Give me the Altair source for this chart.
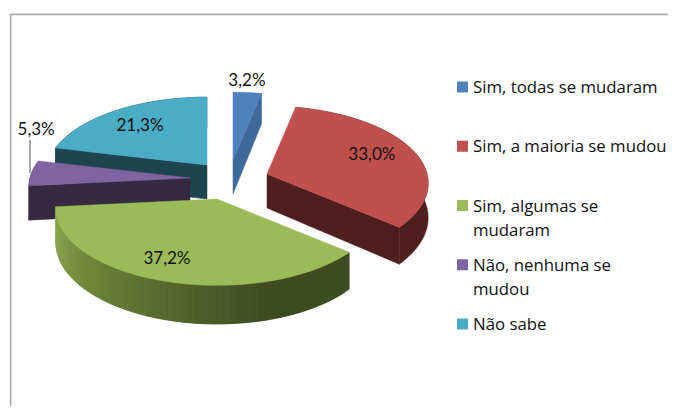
import math
import numpy as np
import pandas as pd
import altair as alt

# ---- data
categories = ["Sim, todas se mudaram", "Sim, a maioria se mudou", "Sim, algumas se mudaram",
              "Não, nenhuma se mudou", "Não sabe"]
legend_text = ["Sim, todas se mudaram", "Sim, a maioria se mudou", "Sim, algumas se\nmudaram",
               "Não, nenhuma se\nmudou", "Não sabe"]
shares = [3.2, 33.0, 37.2, 5.3, 21.3]
value_labels = ["3,2%", "33,0%", "37,2%", "5,3%", "21,3%"]
top_colors = ["#4f81bd", "#c0504d", "#9bbb59", "#8064a2", "#4bacc6"]
wall_colors = ["#3e6a9a", "#4f1f1f", "#3f4c22", "#352a41", "#1d444f"]

# ---- layout of the tilted pie (screen pixels)
ORIGIN = 8
RX, RY, PERSP, DEPTH = 160.0, 76.0, 0.12, 34.0
slice_tips = [(233, 160), (267, 174), (217, 199), (190, 178), (207, 165)]
label_angle = [4.8, 69.0, 201.6, 303.3, 320.8]
label_radius = [1.192, 0.724, 0.776, 1.245, 0.706]
green_stops_deg = [130, 165, 195, 225, 250, 265]
green_stops_col = ["#3f4c22", "#3f4c22", "#55682e", "#6d8439", "#84a04b", "#8fab55"]


def project(tip, deg, f=1.0, drop=False):
    a = math.radians(deg)
    u, v = f * math.sin(a), -f * math.cos(a)
    d = 1 - PERSP * v
    x = tip[0] + RX * u / d - ORIGIN
    y = tip[1] + RY * v / d - ORIGIN
    if drop:
        y += DEPTH / d
    return [round(x, 2), round(y, 2)]


def hex_mix(deg):
    rgb = [[int(c[i:i + 2], 16) for i in (1, 3, 5)] for c in green_stops_col]
    parts = [np.interp(deg, green_stops_deg, [p[k] for p in rgb]) for k in range(3)]
    return "#%02x%02x%02x" % tuple(int(round(p)) for p in parts)


def feature(ring, fill):
    return {"type": "Feature", "properties": {"fill": fill},
            "geometry": {"type": "Polygon", "coordinates": [ring + [ring[0]]]}}


starts = np.cumsum([0] + shares[:-1]) * 3.6
ends = np.cumsum(shares) * 3.6
shapes = {}
for i, tip in enumerate(slice_tips):
    a0, a1 = float(starts[i]), float(ends[i])
    angles = np.linspace(a0, a1, 60)
    tip_px = [tip[0] - ORIGIN, tip[1] - ORIGIN]
    tip_low = [tip_px[0], tip_px[1] + DEPTH]
    top = feature([tip_px] + [project(tip, t) for t in angles], top_colors[i])
    walls = []
    if i == 2:  # curved wall with its shading; each strip runs under the next one
        for j in range(len(angles) - 1):
            t0, t1 = angles[j], angles[min(j + 2, len(angles) - 1)]
            ring = [project(tip, t0), project(tip, t1), project(tip, t1, drop=True), project(tip, t0, drop=True)]
            walls.append(feature(ring, hex_mix((angles[j] + angles[j + 1]) / 2)))
    else:
        if i != 0:
            arc = [project(tip, t) for t in angles]
            low = [project(tip, t, drop=True) for t in angles[::-1]]
            walls.append(feature(arc + low, wall_colors[i]))
        edge = a1 if i in (0, 1) else a0  # the cut face that looks toward the viewer
        walls.append(feature([tip_px, project(tip, edge), project(tip, edge, drop=True), tip_low], wall_colors[i]))
    shapes[i] = walls + [top]

painter = [4, 3, 0, 1, 2]
features = [f for i in painter for f in shapes[i]]

pie = alt.Chart(alt.Data(values=features)).mark_geoshape(strokeWidth=0.5).encode(
    fill=alt.Fill("properties.fill:N", scale=None),
    stroke=alt.Stroke("properties.fill:N", scale=None),
).project(type="identity", scale=1, translate=[0, 0])

W, H = 660, 398
frame_feat = [{"type": "Feature", "properties": {},
               "geometry": {"type": "LineString",
                            "coordinates": [[2.6, H + 5], [2.6, 6.4], [W + 5, 6.4]]}}]
frame = alt.Chart(alt.Data(values=frame_feat)).mark_geoshape(
    filled=False, stroke="#a9a9a9", strokeWidth=1.6).project(type="identity", scale=1, translate=[0, 0])

leader_tip = slice_tips[3]
leader_feat = [{"type": "Feature", "properties": {},
                "geometry": {"type": "LineString",
                             "coordinates": [[leader_tip[0] - 160 - ORIGIN, leader_tip[1] - 38 - ORIGIN],
                                             [leader_tip[0] - 160 - ORIGIN, leader_tip[1] - 5 - ORIGIN]]}}]
leader = alt.Chart(alt.Data(values=leader_feat)).mark_geoshape(
    filled=False, stroke="#555555", strokeWidth=1).project(type="identity", scale=1, translate=[0, 0])

label_pos = [project(slice_tips[i], label_angle[i], label_radius[i]) for i in range(5)]
df_labels = pd.DataFrame({"label": value_labels,
                          "x": [p[0] for p in label_pos],
                          "y": [p[1] for p in label_pos]})
labels = alt.Chart(df_labels).mark_text(font="Lato", fontSize=17, color="#111111", baseline="middle").encode(
    x=alt.X("x:Q", scale=None, axis=None),
    y=alt.Y("y:Q", scale=None, axis=None),
    text="label:N",
)

df_leg = pd.DataFrame({"cat": categories, "text": legend_text})
leg_y = alt.Y("cat:N", sort=categories, axis=None,
              scale=alt.Scale(domain=categories, range=[87 - ORIGIN, 324 - ORIGIN], type="point", padding=0))
swatches = alt.Chart(df_leg).mark_square(size=121, opacity=1).encode(
    x=alt.value(462.5 - ORIGIN), y=leg_y,
    fill=alt.Fill("cat:N", scale=alt.Scale(domain=categories, range=top_colors), legend=None),
)
leg_text = alt.Chart(df_leg).mark_text(font="Open Sans", fontSize=16.8, align="left", baseline="top", dy=-7,
                                       lineBreak="\n", lineHeight=24, color="#111111").encode(
    x=alt.value(473 - ORIGIN), y=leg_y, text="text:N",
)

chart = alt.layer(frame, pie, leader, labels, swatches, leg_text).resolve_scale(
    x="independent", y="independent", fill="independent", stroke="independent"
).properties(width=W, height=H, padding=0, autosize=alt.AutoSizeParams(type="none"),
             background="white").configure_view(stroke=None)

chart.save("out.html", embed_options={"renderer": "svg", "actions": False})
